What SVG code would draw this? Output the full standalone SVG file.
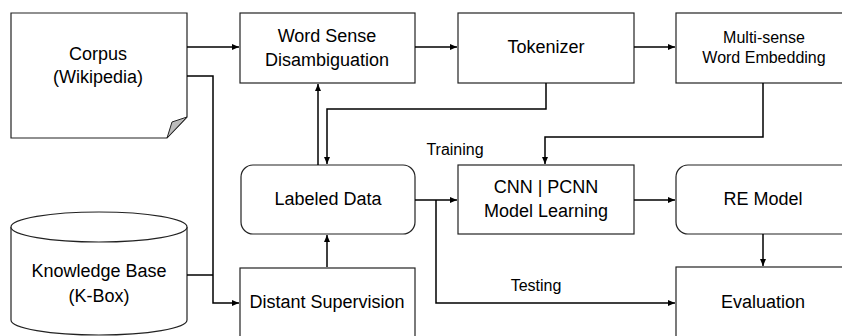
<svg xmlns="http://www.w3.org/2000/svg" width="842" height="336" viewBox="0 0 842 336">
<defs>
<marker id="ah" markerWidth="8" markerHeight="8" refX="7" refY="4" orient="auto" markerUnits="userSpaceOnUse">
<path d="M0,1 L7,4 L0,7 Z" fill="#000"/>
</marker>
<style>
.box{fill:#fff;stroke:#222;stroke-width:1.2}
.t{font-family:"Liberation Sans",Arial,sans-serif;font-size:18px;fill:#000;text-anchor:middle}
.s{font-size:16px}
.c{fill:none;stroke:#000;stroke-width:1.5}
</style>
</defs>
<rect width="842" height="336" fill="#fff"/>
<g id="corpus">
<path class="box" d="M11,13 H187 V117 L167,138 H11 Z"/>
<path d="M187,117 L172,122 L167,138 Z" fill="#bbb" stroke="#222" stroke-width="1"/>
<text class="t" x="98" y="60">Corpus</text>
<text class="t" x="98" y="83">(Wikipedia)</text>
</g>
<g id="kb">
<path class="box" d="M11,227 V320 A88,15 0 0 0 187,320 V227"/>
<ellipse class="box" cx="99" cy="227" rx="88" ry="15"/>
<text class="t" x="99" y="277">Knowledge Base</text>
<text class="t" x="99" y="302">(K-Box)</text>
</g>
<g id="wsd">
<rect class="box" x="240" y="13" width="175" height="70"/>
<text class="t" x="327" y="42">Word Sense</text>
<text class="t" x="327" y="66">Disambiguation</text>
</g>
<g id="tokenizer">
<rect class="box" x="458" y="13" width="176" height="70"/>
<text class="t" x="546" y="53">Tokenizer</text>
</g>
<g id="mswe">
<rect class="box" x="676" y="13" width="180" height="70"/>
<text class="t s" x="764" y="43">Multi-sense</text>
<text class="t s" x="764" y="63">Word Embedding</text>
</g>
<g id="labeled">
<rect class="box" x="241" y="165" width="174" height="69" rx="12"/>
<text class="t" x="328" y="205">Labeled Data</text>
</g>
<g id="cnn">
<rect class="box" x="458" y="165" width="176" height="69"/>
<text class="t" x="546" y="193">CNN | PCNN</text>
<text class="t" x="546" y="217">Model Learning</text>
</g>
<g id="re">
<rect class="box" x="676" y="165" width="190" height="69" rx="12"/>
<text class="t" x="763" y="205">RE Model</text>
</g>
<g id="ds">
<rect class="box" x="240" y="268" width="175" height="80"/>
<text class="t" x="327" y="308">Distant Supervision</text>
</g>
<g id="eval">
<rect class="box" x="676" y="267" width="190" height="80"/>
<text class="t" x="763" y="308">Evaluation</text>
</g>
<g id="connectors">
<path class="c" d="M187,47 H239" marker-end="url(#ah)"/>
<path class="c" d="M187,76 H213 V303 H239" marker-end="url(#ah)"/>
<path class="c" d="M187,275 H213"/>
<path class="c" d="M415,47 H457" marker-end="url(#ah)"/>
<path class="c" d="M634,47 H675" marker-end="url(#ah)"/>
<path class="c" d="M546,83 V109 H327 V164" marker-end="url(#ah)"/>
<path class="c" d="M318,165 V84" marker-end="url(#ah)"/>
<path class="c" d="M763,83 V137 H545 V164" marker-end="url(#ah)"/>
<path class="c" d="M415,200 H457" marker-end="url(#ah)"/>
<path class="c" d="M436,200 V303 H675" marker-end="url(#ah)"/>
<path class="c" d="M634,200 H675" marker-end="url(#ah)"/>
<path class="c" d="M763,234 V266" marker-end="url(#ah)"/>
<path class="c" d="M327,267 V235" marker-end="url(#ah)"/>
<text class="t s" x="455" y="155">Training</text>
<text class="t s" x="536" y="291">Testing</text>
</g>
</svg>
